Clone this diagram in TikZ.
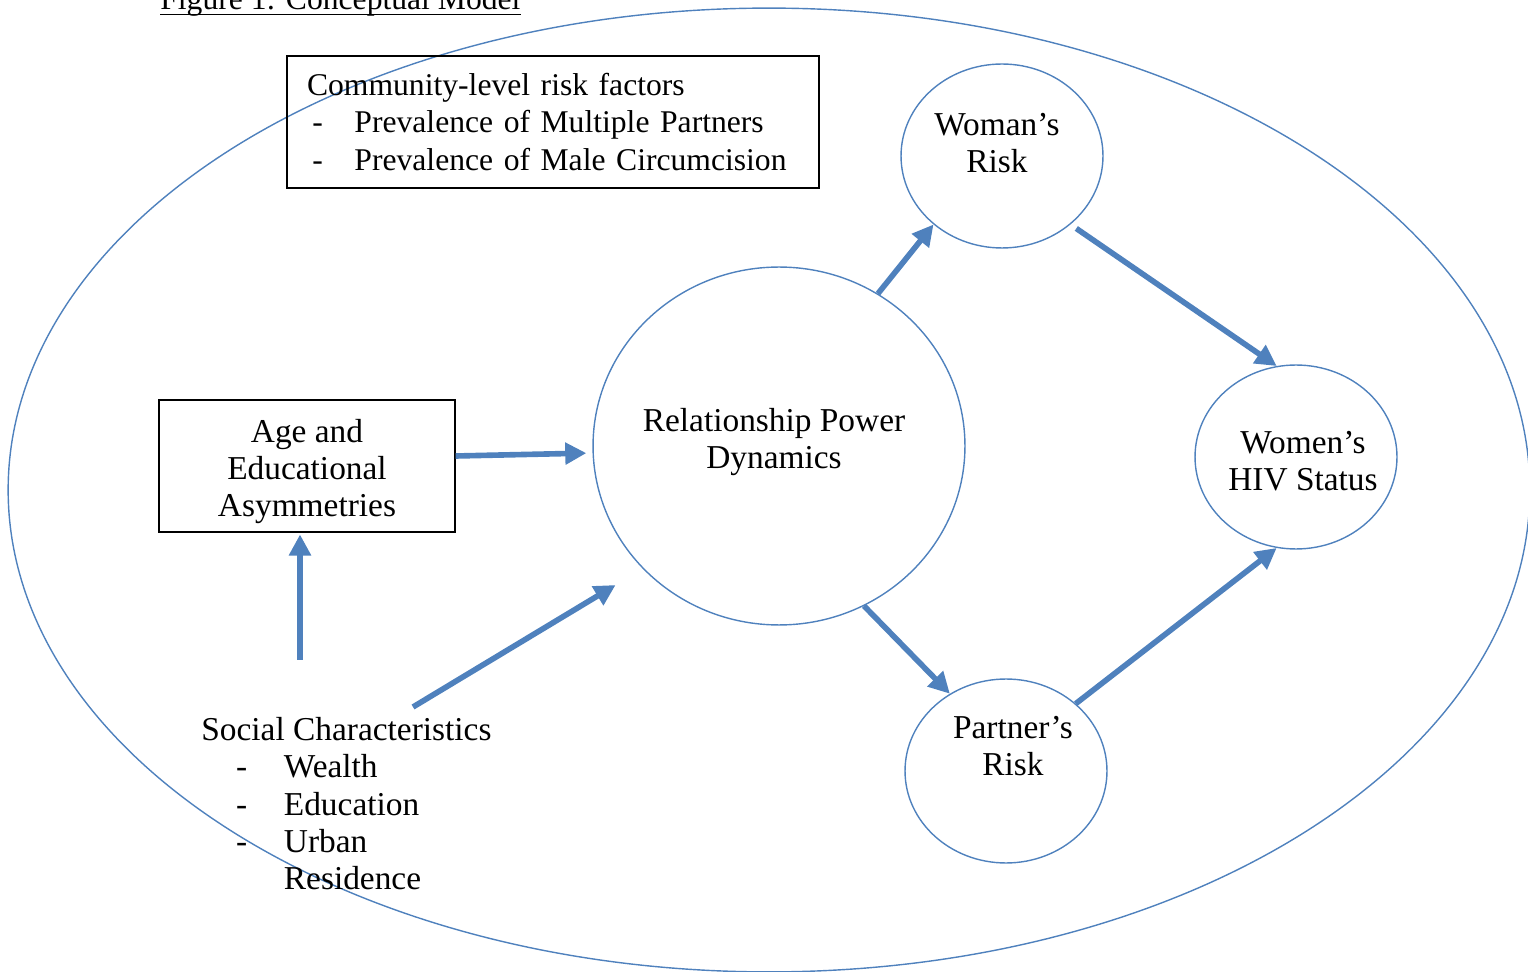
\documentclass[tikz,border=0pt]{standalone}
\usepackage{fontspec}
\setmainfont{Liberation Serif}
\usetikzlibrary{shapes.geometric, arrows.meta}
\definecolor{modelblue}{RGB}{79,129,189}
\tikzstyle{factorbox} = [rectangle, draw=black, line width=0.8pt, minimum height=2.64cm, inner sep=0pt, font=\fontsize{19}{21.2}\selectfont]
\tikzstyle{riskcircle} = [ellipse, draw=modelblue, line width=0.8pt, minimum width=4.04cm, minimum height=3.68cm, inner sep=0pt]
\tikzstyle{circletext} = [align=center, font=\fontsize{19}{21.2}\selectfont]
\tikzstyle{edge} = [modelblue, line width=3.2pt, -{Triangle[length=12pt, width=12pt]}]

\begin{document}
\begin{tikzpicture}[x=0.02cm, y=-0.02cm]
\useasboundingbox (0,0) rectangle (1528,972);
\clip (0,0) rectangle (1528,972);

% outer frame
\draw [modelblue, line width=0.8pt] (769,490) ellipse [x radius=15.22cm, y radius=9.64cm];

\node (title) [anchor=base west, inner sep=0pt, font=\fontsize{18}{20}\selectfont] at (160,10) {Figure 1: Conceptual Model};
\draw [line width=0.6pt] ([yshift=-2.5pt]title.base west) -- ([yshift=-2.5pt]title.base east);

\node (comm) [factorbox, minimum width=10.64cm, text width=9.84cm, inner xsep=0.4cm, align=left, font=\fontsize{18}{21.3}\selectfont] at (553,122) {Community-level risk factors\\ \makebox[27pt][l]{\,-}Prevalence of Multiple Partners\\ \makebox[27pt][l]{\,-}Prevalence of Male Circumcision};
\node (age) [factorbox, minimum width=5.92cm, label={[circletext, yshift=-0.11cm]center:Age and\\Educational\\Asymmetries}] at (307,466) {};

\node (rel) [riskcircle, minimum width=7.44cm, minimum height=7.16cm, label={[circletext, xshift=-0.1cm, yshift=0.08cm]center:Relationship Power\\Dynamics}] at (779,446) {};
\node (wr) [riskcircle, label={[circletext, xshift=-0.1cm, yshift=0.26cm]center:Woman’s\\Risk}] at (1002,156) {};
\node (hiv) [riskcircle, label={[circletext, xshift=0.14cm, yshift=-0.08cm]center:Women’s\\HIV Status}] at (1296,457) {};
\node (pr) [riskcircle, label={[circletext, xshift=0.14cm, yshift=0.5cm]center:Partner’s\\Risk}] at (1006,771) {};

\node (soc) [anchor=north west, inner sep=0pt, align=left, font=\fontsize{19}{21.2}\selectfont] at (201,717) {Social Characteristics\\ \hspace*{19.8pt}\makebox[27.2pt][l]{-}Wealth\\ \hspace*{19.8pt}\makebox[27.2pt][l]{-}Education\\ \hspace*{19.8pt}\makebox[27.2pt][l]{-}Urban\\ \hspace*{47pt}Residence};
\coordinate (socup) at (300,660);
\coordinate (socright) at (413,707);

\draw [edge, shorten >=3.4pt] ([yshift=0.2cm]age.east) -- ([yshift=-0.14cm]rel.west);
\draw [edge, shorten >=1pt] (socup) -- (socup |- age.south);
\draw [edge, shorten >=18pt] (socright) -- (rel.222);
\draw [edge] (rel.57) -- (wr.225);
\draw [edge, shorten <=4pt] (wr.-45) -- (hiv.102);
\draw [edge] (rel.-62) -- (pr.126);
\draw [edge] (pr.44) -- (hiv.258);

\end{tikzpicture}
\end{document}
